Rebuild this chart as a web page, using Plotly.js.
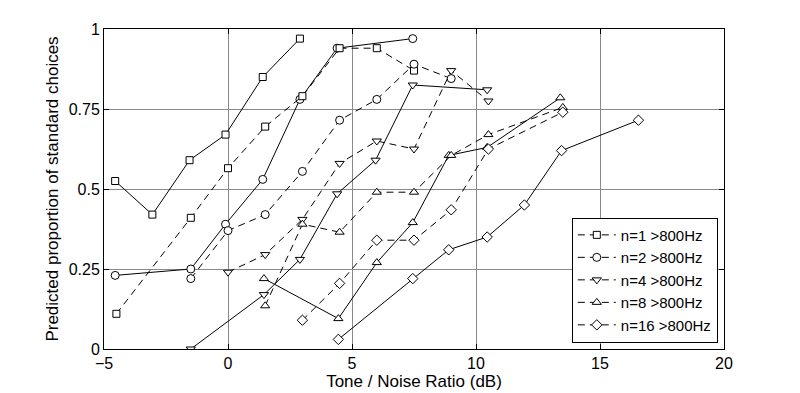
<!DOCTYPE html>
<html>
<head>
<meta charset="utf-8">
<script src="https://cdn.plot.ly/plotly-3.0.1.min.js"></script>
<style>html,body{margin:0;padding:0;background:#fff;}#chart{width:800px;height:393px;}</style>
</head>
<body>
<div id="chart"></div>
<script>
// Dashed series (shown in legend)
const legendNames = ['n=1 >800Hz', 'n=2 >800Hz', 'n=4 >800Hz', 'n=8 >800Hz', 'n=16 >800Hz'];
const symbols = ['square', 'circle', 'triangle-down', 'triangle-up', 'diamond'];
const symbolSizes = [7, 8, 8, 8, 8];

const dashN1x = [-4.5, -1.5, 0, 1.5, 3, 4.5, 6, 7.5];
const dashN1y = [0.11, 0.41, 0.565, 0.695, 0.79, 0.94, 0.94, 0.87];
const dashN2x = [-1.5, 0, 1.5, 3, 4.5, 6, 7.5, 9];
const dashN2y = [0.22, 0.37, 0.42, 0.555, 0.715, 0.78, 0.89, 0.845];
const dashN4x = [0, 1.5, 3, 4.5, 6, 7.5, 9, 10.5];
const dashN4y = [0.24, 0.295, 0.405, 0.58, 0.65, 0.625, 0.87, 0.775];
const dashN8x = [1.5, 3, 4.5, 6, 7.5, 9, 10.5, 13.5];
const dashN8y = [0.135, 0.39, 0.365, 0.49, 0.49, 0.605, 0.67, 0.755];
const dashN16x = [3, 4.5, 6, 7.5, 9, 10.5, 13.5];
const dashN16y = [0.09, 0.205, 0.34, 0.34, 0.435, 0.625, 0.74];

// Solid series (not in legend)
const solidN1x = [-4.55, -3.05, -1.55, -0.1, 1.4, 2.9];
const solidN1y = [0.525, 0.42, 0.59, 0.67, 0.85, 0.97];
const solidN2x = [-4.55, -1.5, -0.1, 1.4, 2.9, 4.4, 7.45];
const solidN2y = [0.23, 0.25, 0.39, 0.53, 0.78, 0.94, 0.97];
const solidN4x = [-1.5, 1.45, 2.9, 4.4, 5.95, 7.45, 10.45];
const solidN4y = [0, 0.17, 0.28, 0.485, 0.59, 0.825, 0.81];
const solidN8x = [1.45, 4.45, 6.0, 7.45, 8.9, 10.45, 13.4];
const solidN8y = [0.22, 0.095, 0.27, 0.395, 0.605, 0.63, 0.785];
const solidN16x = [4.45, 7.45, 8.9, 10.45, 11.95, 13.45, 16.55];
const solidN16y = [0.03, 0.22, 0.31, 0.35, 0.45, 0.62, 0.715];

const xTickVals = [-5, 0, 5, 10, 15, 20];
const xTickText = ['\u22125', '0', '5', '10', '15', '20'];
const yTickVals = [0, 0.25, 0.5, 0.75, 1];
const yTickText = ['0', '0.25', '0.5', '0.75', '1'];

const dashX = [dashN1x, dashN2x, dashN4x, dashN8x, dashN16x];
const dashY = [dashN1y, dashN2y, dashN4y, dashN8y, dashN16y];
const solidX = [solidN1x, solidN2x, solidN4x, solidN8x, solidN16x];
const solidY = [solidN1y, solidN2y, solidN4y, solidN8y, solidN16y];

function mk(i) {
  return {symbol: symbols[i], size: symbolSizes[i], color: '#ffffff', line: {color: '#000000', width: 1}};
}

const traces = [];
for (let i = 0; i < 5; i++) {
  traces.push({
    x: solidX[i], y: solidY[i], type: 'scatter', mode: 'lines+markers',
    line: {color: '#000000', width: 1}, marker: mk(i), showlegend: false, hoverinfo: 'x+y'
  });
}
for (let i = 0; i < 5; i++) {
  traces.push({
    x: dashX[i], y: dashY[i], type: 'scatter', mode: 'lines+markers', name: legendNames[i],
    line: {color: '#000000', width: 1, dash: '7px,5px'}, marker: mk(i)
  });
}

const font = {family: '"Liberation Sans", Arial, Helvetica, sans-serif', color: '#000000'};

const layout = {
  width: 800, height: 393,
  margin: {l: 104, r: 76, t: 29, b: 44, pad: 0},
  paper_bgcolor: '#ffffff', plot_bgcolor: '#ffffff',
  font: Object.assign({size: 16}, font),
  showlegend: true,
  legend: {
    x: 0.99, y: 0.02, xanchor: 'right', yanchor: 'bottom',
    bgcolor: '#ffffff', bordercolor: '#000000', borderwidth: 1,
    font: Object.assign({size: 15}, font), tracegroupgap: 0, itemwidth: 38
  },
  xaxis: {
    range: [-5, 20], tickmode: 'array', tickvals: xTickVals, ticktext: xTickText,
    showgrid: true, gridcolor: '#8a8a8a', gridwidth: 1, zeroline: false,
    showline: true, linecolor: '#000000', linewidth: 1, mirror: 'ticks',
    ticks: 'inside', ticklen: 5, tickcolor: '#000000',
    tickfont: Object.assign({size: 16}, font),
    title: {text: 'Tone / Noise Ratio (dB)', font: Object.assign({size: 17}, font), standoff: 3},
    automargin: false
  },
  yaxis: {
    range: [0, 1], tickmode: 'array', tickvals: yTickVals, ticktext: yTickText,
    showgrid: true, gridcolor: '#8a8a8a', gridwidth: 1, zeroline: false,
    showline: true, linecolor: '#000000', linewidth: 1, mirror: 'ticks',
    ticks: 'inside', ticklen: 5, tickcolor: '#000000',
    tickfont: Object.assign({size: 16}, font),
    title: {text: 'Predicted proportion of standard choices', font: Object.assign({size: 17}, font), standoff: 5},
    automargin: false
  }
};

Plotly.newPlot('chart', traces, layout, {displayModeBar: false, staticPlot: true});
</script>
</body>
</html>
